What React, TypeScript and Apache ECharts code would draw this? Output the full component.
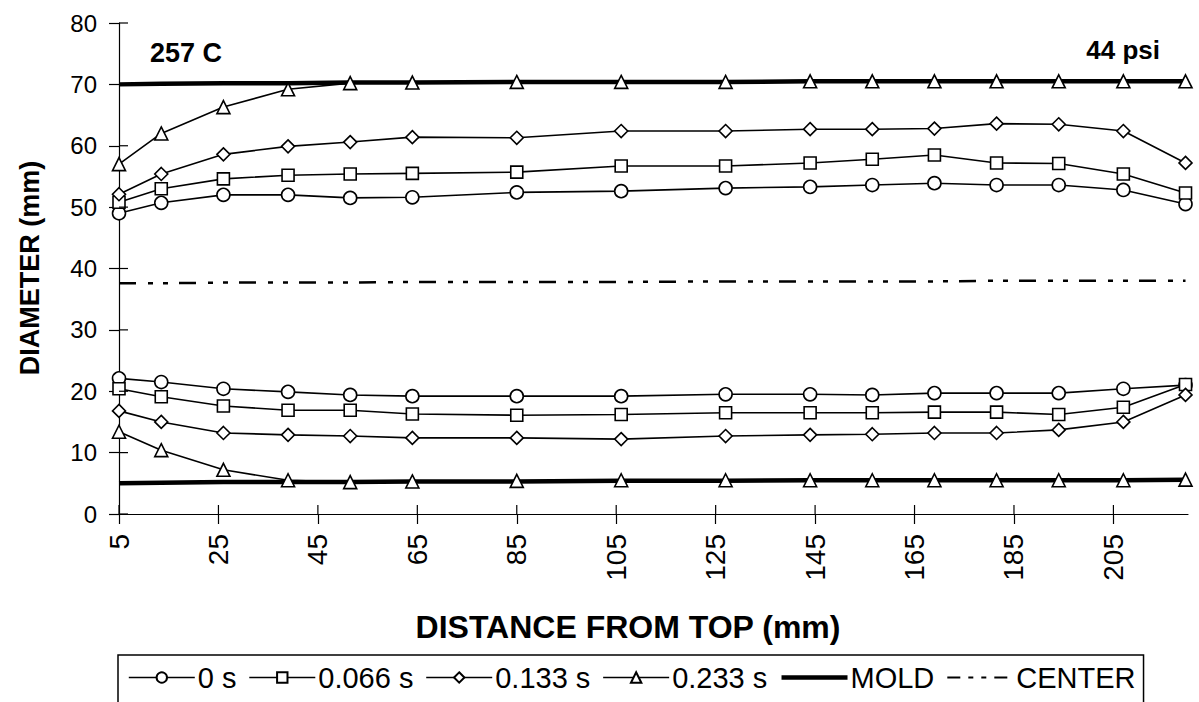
import React, { useEffect, useRef } from "react";
import * as echarts from "echarts";

const xPos = [5, 13.5, 26, 39, 51.5, 64, 85, 106, 127, 144, 156.5, 169, 181.5, 194, 207, 219.5];
const xTicks = [5, 25, 45, 65, 85, 105, 125, 145, 165, 185, 205];
const yTicks = [0, 10, 20, 30, 40, 50, 60, 70, 80];

const upper0 = [49.0, 50.7, 52.0, 52.0, 51.5, 51.6, 52.4, 52.6, 53.1, 53.3, 53.6, 53.9, 53.6, 53.6, 52.8, 50.5];
const upper066 = [50.8, 53.0, 54.6, 55.2, 55.4, 55.5, 55.7, 56.7, 56.7, 57.2, 57.8, 58.5, 57.2, 57.1, 55.4, 52.3];
const upper133 = [52.1, 55.4, 58.6, 59.9, 60.6, 61.4, 61.3, 62.4, 62.4, 62.7, 62.7, 62.8, 63.6, 63.5, 62.4, 57.2];
const upper233 = [57.0, 62.0, 66.3, 69.2, 70.2, 70.3, 70.4, 70.4, 70.4, 70.5, 70.5, 70.5, 70.5, 70.5, 70.5, 70.5];

const lower0 = [22.1, 21.5, 20.4, 19.9, 19.4, 19.2, 19.2, 19.2, 19.5, 19.5, 19.4, 19.7, 19.7, 19.7, 20.4, 21.0];
const lower066 = [20.4, 19.1, 17.6, 16.9, 16.9, 16.3, 16.1, 16.2, 16.5, 16.5, 16.5, 16.6, 16.6, 16.2, 17.4, 21.1];
const lower133 = [16.8, 15.0, 13.2, 12.9, 12.7, 12.4, 12.4, 12.2, 12.7, 12.9, 13.0, 13.2, 13.2, 13.7, 15.0, 19.4];
const lower233 = [13.4, 10.4, 7.2, 5.5, 5.2, 5.3, 5.4, 5.5, 5.5, 5.5, 5.5, 5.5, 5.5, 5.5, 5.5, 5.6];

const moldUpper = [70.0, 70.1, 70.2, 70.2, 70.3, 70.3, 70.4, 70.4, 70.4, 70.5, 70.5, 70.5, 70.5, 70.5, 70.5, 70.5];
const moldLower = [5.0, 5.1, 5.2, 5.2, 5.2, 5.3, 5.3, 5.4, 5.4, 5.5, 5.5, 5.5, 5.5, 5.5, 5.5, 5.6];
const centerLine = [37.6, 37.6, 37.7, 37.7, 37.7, 37.8, 37.8, 37.8, 37.9, 37.9, 37.9, 37.9, 38.0, 38.0, 38.0, 38.0];

const seriesNames = ["0 s", "0.066 s", "0.133 s", "0.233 s", "MOLD", "CENTER"];

const FONT = "'Liberation Sans', Arial, Helvetica, sans-serif";

const pairs = (ys: number[]) => ys.map((y, i) => [xPos[i], y]);

export default function App() {
  const ref = useRef<HTMLDivElement>(null);

  useEffect(() => {
    if (!ref.current) return;
    const chart = echarts.init(ref.current, undefined, { renderer: "svg" });

    const markerSeries = (name: string, symbol: string, size: number, ys: number[]) => ({
      name,
      type: "line",
      data: pairs(ys),
      symbol,
      symbolSize: size,
      showSymbol: true,
      clip: false,
      z: 5,
      lineStyle: { color: "#000", width: 1.6 },
      itemStyle: { color: "#fff", borderColor: "#000", borderWidth: 1.6 },
      emphasis: { disabled: true },
    });

    const moldSeries = (ys: number[]) => ({
      name: "MOLD",
      type: "line",
      data: pairs(ys),
      symbol: "none",
      clip: false,
      z: 3,
      lineStyle: { color: "#000", width: 4.5 },
      itemStyle: { color: "#000" },
      emphasis: { disabled: true },
    });

    const tickLine = { color: "#000", width: 1.2 };
    const hiddenSym = { color: "rgba(0,0,0,0)", borderColor: "rgba(0,0,0,0)", borderWidth: 0 };

    const legendData = seriesNames.map((n) => {
      if (n === "MOLD") {
        return { name: n, itemStyle: hiddenSym, lineStyle: { color: "#000", width: 4.5, type: "solid" } };
      }
      if (n === "CENTER") {
        return { name: n, itemStyle: hiddenSym, lineStyle: { color: "#000", width: 2, type: [13, 8, 5, 8, 5, 8] } };
      }
      return { name: n, lineStyle: { color: "#000", width: 1.6 } };
    });

    const baseGraphic: any[] = [
      {
        type: "text",
        left: 150,
        top: 39,
        style: { text: "257 C", fontSize: 27, fontWeight: "bold", fontFamily: FONT, fill: "#000" },
      },
      {
        type: "text",
        right: 39,
        top: 37,
        style: { text: "44 psi", fontSize: 26, fontWeight: "bold", fontFamily: FONT, fill: "#000" },
      },
      {
        type: "text",
        x: 30,
        y: 268,
        rotation: Math.PI / 2,
        style: {
          text: "DIAMETER (mm)",
          fontSize: 27,
          fontWeight: "bold",
          fontFamily: FONT,
          fill: "#000",
          align: "center",
          verticalAlign: "middle",
        },
      },
      {
        type: "text",
        x: 628,
        y: 627,
        style: {
          text: "DISTANCE FROM TOP (mm)",
          fontSize: 32,
          fontWeight: "bold",
          fontFamily: FONT,
          fill: "#000",
          align: "center",
          verticalAlign: "middle",
        },
      },
    ];

    const option: any = {
      animation: false,
      backgroundColor: "#fff",
      grid: { left: 119, right: 11, top: 23, bottom: 188, containLabel: false },
      xAxis: {
        type: "value",
        min: 5,
        max: 220,
        position: "bottom",
        axisLine: { show: true, onZero: false, lineStyle: tickLine },
        axisTick: { show: true, length: 10, customValues: xTicks, lineStyle: tickLine },
        axisLabel: {
          customValues: xTicks,
          rotate: 90,
          margin: 20,
          color: "#000",
          fontSize: 28,
          fontFamily: FONT,
        },
        splitLine: { show: false },
      },
      yAxis: {
        type: "value",
        min: 0,
        max: 80,
        interval: 10,
        axisLine: { show: true, lineStyle: tickLine },
        axisTick: { show: true, length: 10, lineStyle: tickLine },
        axisLabel: { margin: 22, color: "#000", fontSize: 24, fontFamily: FONT },
        splitLine: { show: false },
      },
      legend: {
        data: legendData,
        left: 118,
        top: 655,
        orient: "horizontal",
        itemWidth: 66,
        itemHeight: 13,
        itemGap: 12,
        padding: [8, 8, 40, 10],
        borderColor: "#000",
        borderWidth: 1.5,
        selectedMode: false,
        textStyle: { color: "#000", fontSize: 29, fontFamily: FONT, padding: [0, 0, 0, -2] },
      },
      graphic: baseGraphic,
      series: [
        moldSeries(moldUpper),
        moldSeries(moldLower),
        {
          name: "CENTER",
          type: "line",
          data: pairs(centerLine),
          symbol: "none",
          clip: false,
          z: 3,
          lineStyle: { color: "#000", width: 2.5, type: [17, 12, 5, 10, 5, 11] },
          itemStyle: { color: "#000" },
          emphasis: { disabled: true },
        },
        markerSeries("0 s", "circle", 13, upper0),
        markerSeries("0.066 s", "rect", 12, upper066),
        markerSeries("0.133 s", "diamond", 13, upper133),
        markerSeries("0.233 s", "triangle", 13, upper233),
        markerSeries("0 s", "circle", 13, lower0),
        markerSeries("0.066 s", "rect", 12, lower066),
        markerSeries("0.133 s", "diamond", 13, lower133),
        markerSeries("0.233 s", "triangle", 13, lower233),
      ],
    };

    chart.setOption(option);

    // inner halves of the crossing tick marks, placed through the chart's own scales
    const inner: any[] = [];
    yTicks.forEach((v) => {
      const p = chart.convertToPixel({ gridIndex: 0 }, [5, v]) as number[];
      inner.push({
        type: "line",
        silent: true,
        z: 10,
        shape: { x1: p[0], y1: p[1], x2: p[0] + 9, y2: p[1] },
        style: { stroke: "#000", lineWidth: 1.2 },
      });
    });
    xTicks.forEach((v) => {
      const p = chart.convertToPixel({ gridIndex: 0 }, [v, 0]) as number[];
      inner.push({
        type: "line",
        silent: true,
        z: 10,
        shape: { x1: p[0], y1: p[1], x2: p[0], y2: p[1] - 9 },
        style: { stroke: "#000", lineWidth: 1.2 },
      });
    });
    chart.setOption({ graphic: [...baseGraphic, ...inner] });

    return () => chart.dispose();
  }, []);

  return (
    <div
      ref={ref}
      style={{ position: "fixed", left: 0, top: 0, width: 1199, height: 702, background: "#fff" }}
    />
  );
}
